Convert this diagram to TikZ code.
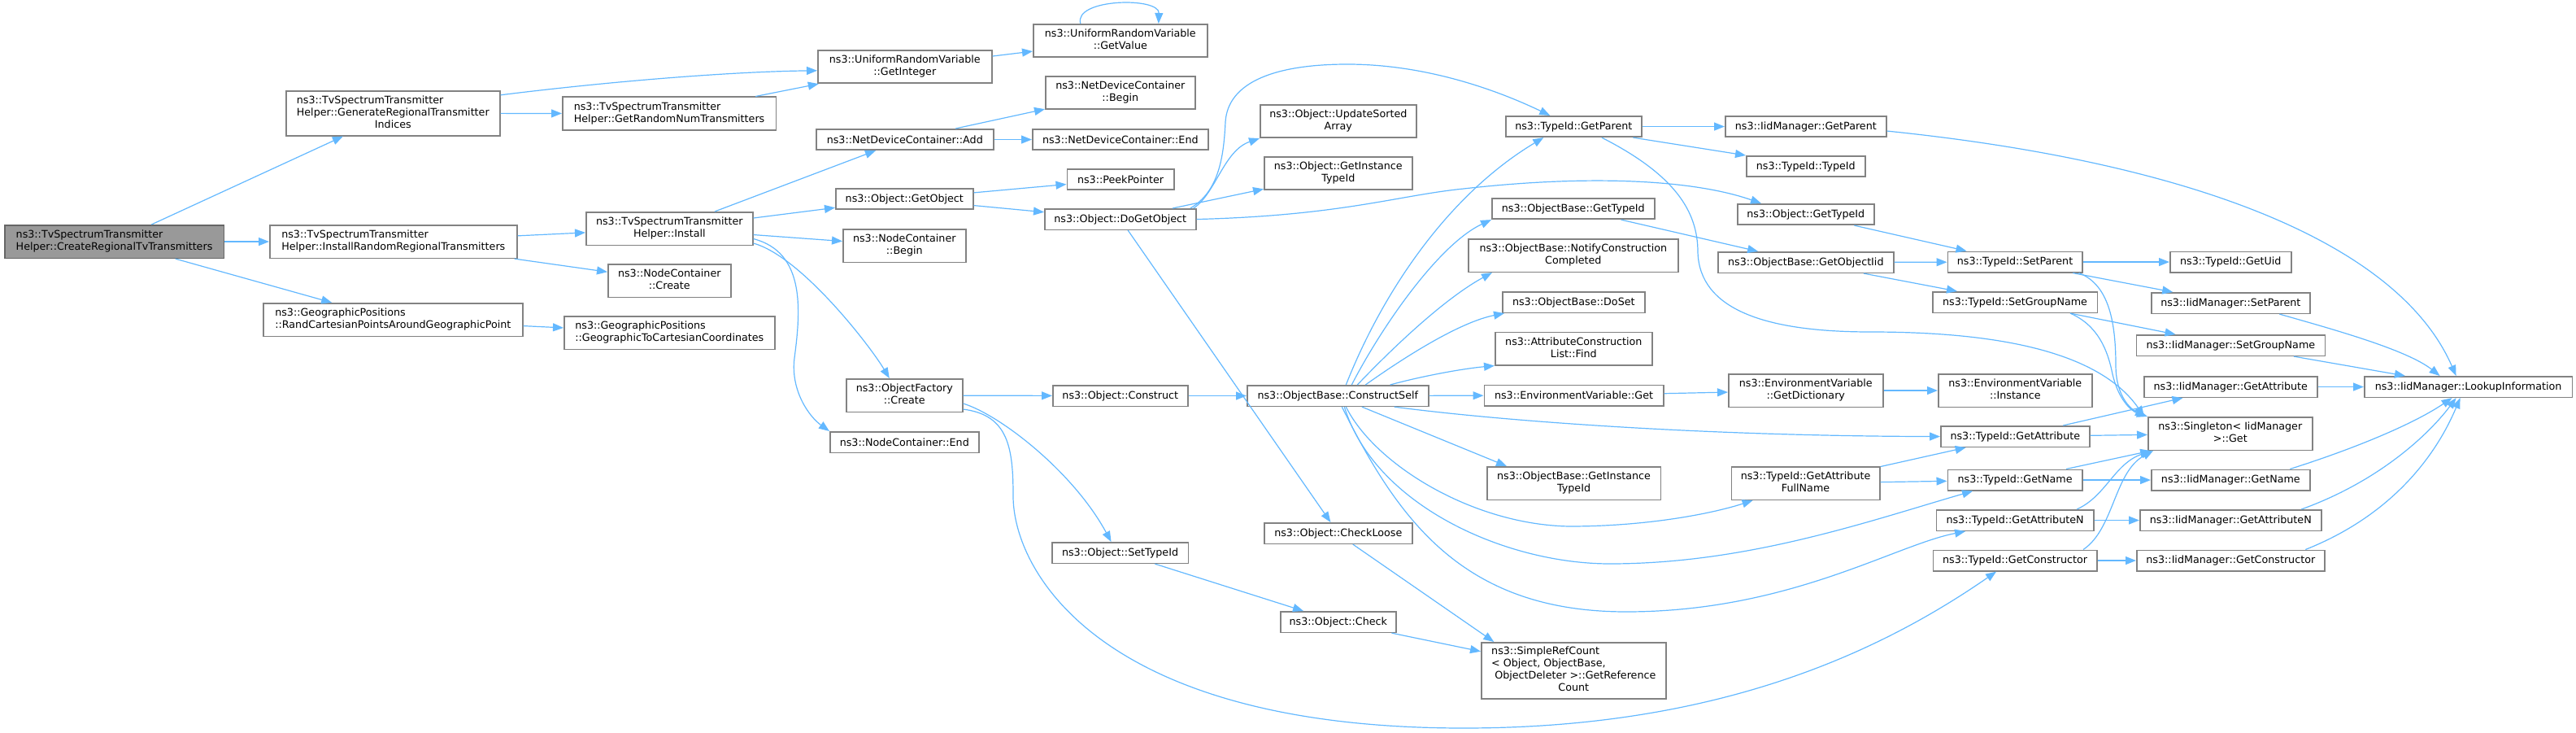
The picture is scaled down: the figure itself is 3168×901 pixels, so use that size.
\documentclass[tikz,border=0pt]{standalone}
\usepackage{fontspec}
\setmainfont{DejaVu Sans}
\usetikzlibrary{arrows.meta}

\definecolor{edgeblue}{HTML}{63B8FF}
\definecolor{boxline}{HTML}{828282}
\definecolor{rootfill}{HTML}{999999}
\definecolor{rootline}{HTML}{666666}

\newcommand{\fnfont}{\fontsize{12.7}{15}\selectfont}
% left aligned lines, last line centred
\newcommand{\lab}[2]{\begin{tabular}{@{}l@{}}#1\\\multicolumn{1}{@{}c@{}}{#2}\end{tabular}}

\tikzset{
  fn/.style={draw=boxline, fill=white, line width=1.6pt, inner sep=0pt, anchor=north west, font=\fnfont},
  root/.style={fn, draw=rootline, fill=rootfill},
  callto/.style={draw=edgeblue, line width=1.2pt, -{Triangle[length=13pt,width=10pt]}}
}

\begin{document}
\begin{tikzpicture}[x=1pt,y=-1pt]
		\useasboundingbox (0,0) rectangle (3168,901);
		\def\hone{25.5pt} % one line box
		\def\htwo{40.5pt} % two line box
		
		% First columns
		\node[root, minimum width=269.5pt, minimum height=\htwo] (main) at (5,276) {\lab{ns3::TvSpectrumTransmitter}{Helper::CreateRegionalTvTransmitters}};
		\node[fn, minimum width=263pt, minimum height=55pt] (gen) at (351,111) {\lab{ns3::TvSpectrumTransmitter\\Helper::GenerateRegionalTransmitter}{Indices}};
		\node[fn, minimum width=304pt, minimum height=\htwo] (instrand) at (331,276) {\lab{ns3::TvSpectrumTransmitter}{Helper::InstallRandomRegionalTransmitters}};
		\node[fn, minimum width=319pt, minimum height=\htwo] (georand) at (323,372) {\lab{ns3::GeographicPositions}{::RandCartesianPointsAroundGeographicPoint}};
		\node[fn, minimum width=262.5pt, minimum height=\htwo] (getrnd) at (691,118.5) {\lab{ns3::TvSpectrumTransmitter}{Helper::GetRandomNumTransmitters}};
		\node[fn, minimum width=205pt, minimum height=\htwo] (install) at (720,260) {\lab{ns3::TvSpectrumTransmitter}{Helper::Install}};
		\node[fn, minimum width=151pt, minimum height=\htwo] (nccreate) at (747,324) {\lab{ns3::NodeContainer}{::Create}};
		\node[fn, minimum width=259pt, minimum height=\htwo] (geocart) at (693,388) {\lab{ns3::GeographicPositions}{::GeographicToCartesianCoordinates}};
		\node[fn, minimum width=214pt, minimum height=\htwo] (getint) at (1005,61) {\lab{ns3::UniformRandomVariable}{::GetInteger}};
		\node[fn, minimum width=218pt, minimum height=\hone] (ndcadd) at (1003,158) {ns3::NetDeviceContainer::Add};
		\node[fn, minimum width=169pt, minimum height=\hone] (getobj) at (1027,231) {ns3::Object::GetObject};
		\node[fn, minimum width=151pt, minimum height=\htwo] (ncbegin) at (1036,281) {\lab{ns3::NodeContainer}{::Begin}};
		\node[fn, minimum width=143pt, minimum height=\htwo] (ofcreate) at (1040,465) {\lab{ns3::ObjectFactory}{::Create}};
		\node[fn, minimum width=183pt, minimum height=\hone] (ncend) at (1020,530) {ns3::NodeContainer::End};
		
		% Object internals
		\node[fn, minimum width=214pt, minimum height=\htwo] (getval) at (1270,29) {\lab{ns3::UniformRandomVariable}{::GetValue}};
		\node[fn, minimum width=184pt, minimum height=\htwo] (ndcbegin) at (1285,93) {\lab{ns3::NetDeviceContainer}{::Begin}};
		\node[fn, minimum width=216pt, minimum height=\hone] (ndcend) at (1269,158) {ns3::NetDeviceContainer::End};
		\node[fn, minimum width=131.5pt, minimum height=\hone] (peek) at (1311.5,207) {ns3::PeekPointer};
		\node[fn, minimum width=186pt, minimum height=\hone] (dogetobj) at (1284,256) {ns3::Object::DoGetObject};
		\node[fn, minimum width=166pt, minimum height=\hone] (construct) at (1294,473) {ns3::Object::Construct};
		\node[fn, minimum width=167.5pt, minimum height=\hone] (settid) at (1293,666) {ns3::Object::SetTypeId};
		\node[fn, minimum width=192pt, minimum height=\htwo] (updsort) at (1549,128) {\lab{ns3::Object::UpdateSorted}{Array}};
		\node[fn, minimum width=182pt, minimum height=\htwo] (objinst) at (1554,192) {\lab{ns3::Object::GetInstance}{TypeId}};
		\node[fn, minimum width=223pt, minimum height=\hone] (cself) at (1533,473) {ns3::ObjectBase::ConstructSelf};
		\node[fn, minimum width=182pt, minimum height=\hone] (checkloose) at (1554,642) {ns3::Object::CheckLoose};
		\node[fn, minimum width=142pt, minimum height=\hone] (check) at (1574,751) {ns3::Object::Check};
		
		% Called by ConstructSelf
		\node[fn, minimum width=167pt, minimum height=\hone] (getparent) at (1851,142) {ns3::TypeId::GetParent};
		\node[fn, minimum width=200pt, minimum height=\hone] (obgettid) at (1834,243) {ns3::ObjectBase::GetTypeId};
		\node[fn, minimum width=258pt, minimum height=\htwo] (notify) at (1805,293) {\lab{ns3::ObjectBase::NotifyConstruction}{Completed}};
		\node[fn, minimum width=175pt, minimum height=\hone] (doset) at (1847,358) {ns3::ObjectBase::DoSet};
		\node[fn, minimum width=193pt, minimum height=\htwo] (find) at (1838,407.5) {\lab{ns3::AttributeConstruction}{List::Find}};
		\node[fn, minimum width=220.5pt, minimum height=\hone] (envget) at (1824.5,472.5) {ns3::EnvironmentVariable::Get};
		\node[fn, minimum width=213.5pt, minimum height=\htwo] (obinst) at (1828,573) {\lab{ns3::ObjectBase::GetInstance}{TypeId}};
		\node[fn, minimum width=227pt, minimum height=69pt] (refcount) at (1821,789) {\lab{ns3::SimpleRefCount\\< Object, ObjectBase,\\\ ObjectDeleter >::GetReference}{Count}};
		\node[fn, minimum width=198pt, minimum height=\hone] (iidgetparent) at (2121,142) {ns3::IidManager::GetParent};
		\node[fn, minimum width=146pt, minimum height=\hone] (tidtid) at (2147,191) {ns3::TypeId::TypeId};
		\node[fn, minimum width=168pt, minimum height=\hone] (objgettid) at (2136,250) {ns3::Object::GetTypeId};
		\node[fn, minimum width=216pt, minimum height=\hone] (getiid) at (2112,309) {ns3::ObjectBase::GetObjectIid};
		\node[fn, minimum width=190pt, minimum height=\htwo] (envdict) at (2125,459) {\lab{ns3::EnvironmentVariable}{::GetDictionary}};
		\node[fn, minimum width=182.5pt, minimum height=\htwo] (fullname) at (2128.5,573) {\lab{ns3::TypeId::GetAttribute}{FullName}};
		
		% TypeId column
		\node[fn, minimum width=165.5pt, minimum height=\hone] (setparent) at (2394.5,308.5) {ns3::TypeId::SetParent};
		\node[fn, minimum width=202.5pt, minimum height=\hone] (setgroup) at (2376,358) {ns3::TypeId::SetGroupName};
		\node[fn, minimum width=189pt, minimum height=\htwo] (envinst) at (2383,459) {\lab{ns3::EnvironmentVariable}{::Instance}};
		\node[fn, minimum width=183pt, minimum height=\hone] (tidgetattr) at (2386,523) {ns3::TypeId::GetAttribute};
		\node[fn, minimum width=165.5pt, minimum height=\hone] (tidgetname) at (2394.5,576.5) {ns3::TypeId::GetName};
		\node[fn, minimum width=193.5pt, minimum height=\hone] (tidgetattrn) at (2380.5,626) {ns3::TypeId::GetAttributeN};
		\node[fn, minimum width=201.5pt, minimum height=\hone] (tidgetctor) at (2376.5,675.5) {ns3::TypeId::GetConstructor};
		
		% IidManager column
		\node[fn, minimum width=149pt, minimum height=\hone] (getuid) at (2668,308.5) {ns3::TypeId::GetUid};
		\node[fn, minimum width=195pt, minimum height=\hone] (iidsetparent) at (2645,359) {ns3::IidManager::SetParent};
		\node[fn, minimum width=232pt, minimum height=\hone] (iidsetgroup) at (2626.5,411) {ns3::IidManager::SetGroupName};
		\node[fn, minimum width=213pt, minimum height=\hone] (iidgetattr) at (2636,462) {ns3::IidManager::GetAttribute};
		\node[fn, minimum width=202pt, minimum height=\htwo] (singleton) at (2641,512) {\lab{ns3::Singleton< IidManager}{>::Get}};
		\node[fn, minimum width=195pt, minimum height=\hone] (iidgetname) at (2645,576.5) {ns3::IidManager::GetName};
		\node[fn, minimum width=223pt, minimum height=\hone] (iidgetattrn) at (2631,626) {ns3::IidManager::GetAttributeN};
		\node[fn, minimum width=231pt, minimum height=\hone] (iidgetctor) at (2627,675.5) {ns3::IidManager::GetConstructor};
		\node[fn, minimum width=255.5pt, minimum height=\hone] (lookup) at (2907,462) {ns3::IidManager::LookupInformation};
		
		% Straight calls
		\foreach \a/\b in {main/gen, main/instrand, main/georand, gen/getrnd, getrnd/getint, getint/getval,
			instrand/install, instrand/nccreate, georand/geocart, install/ndcadd, install/getobj, install/ncbegin,
			ndcadd/ndcbegin, ndcadd/ndcend, getobj/peek, getobj/dogetobj, dogetobj/objinst, dogetobj/checkloose,
			ofcreate/construct, construct/cself, cself/envget, getparent/iidgetparent, obgettid/getiid,
			objgettid/setparent, getiid/setparent, getiid/setgroup, setparent/getuid, setparent/iidsetparent,
			setgroup/iidsetgroup, iidsetgroup/lookup, envget/envdict, envdict/envinst, tidgetattr/iidgetattr,
			tidgetattr/singleton, iidgetattr/lookup, fullname/tidgetattr, fullname/tidgetname, tidgetname/singleton,
			tidgetname/iidgetname, tidgetattrn/iidgetattrn, tidgetctor/iidgetctor, settid/check, check/refcount} {
			\draw[callto] (\a) -- (\b);
		}
		
		% Curved calls
		\draw[callto] ([yshift=22.5pt]gen.east) .. controls (750,100) and (900,88) .. ([yshift=-4.75pt]getint.west);
		\draw[callto] ([xshift=-49pt]getval.north) .. controls (1320,-2) and (1426,-4) .. ([xshift=47pt]getval.north);
		\draw[callto] ([yshift=-18pt]install.east) .. controls (985,315) and (1070,425) .. ([xshift=-18.5pt]ofcreate.north);
		\draw[callto] ([yshift=-12.5pt]install.east) .. controls (990,310) and (985,380) .. (977,440) .. controls (972,480) and (995,512) .. (ncend.north west);
		\draw[callto] ([xshift=86pt]dogetobj.north) .. controls (1500,235) and (1505,190) .. (1507,150) .. controls (1510,100) and (1570,79) .. (1657,79) .. controls (1760,79) and (1850,115) .. ([xshift=-29pt]getparent.north);
		\draw[callto] ([xshift=90pt]dogetobj.north) .. controls (1495,238) and (1505,185) .. (updsort.south west);
		\draw[callto] (dogetobj.east) .. controls (1650,265) and (1720,240) .. (1800,232) .. controls (1950,215) and (2080,220) .. ([xshift=30pt]objgettid.north west);
		\draw[callto] ([yshift=-10pt]ofcreate.east) .. controls (1230,510) and (1320,580) .. ([xshift=-11pt]settid.north);
		\draw[callto] ([yshift=-17pt]ofcreate.east) .. controls (1240,510) and (1246,550) .. (1246,610) .. controls (1246,700) and (1350,895) .. (1800,895) .. controls (2100,895) and (2300,810) .. ([xshift=-23pt]tidgetctor.south);
		
		% ConstructSelf fan out
		\draw[callto] ([xshift=10pt]cself.north) .. controls (1700,360) and (1780,240) .. ([xshift=-37pt]getparent.south);
		\draw[callto] ([xshift=17pt]cself.north) .. controls (1700,400) and (1770,300) .. (obgettid.south west);
		\draw[callto] ([xshift=24pt]cself.north) .. controls (1720,420) and (1780,365) .. ([xshift=30pt]notify.south west);
		\draw[callto] ([xshift=34pt]cself.north) .. controls (1740,430) and (1800,395) .. ([xshift=3pt]doset.south west);
		\draw[callto] ([xshift=-48pt]cself.north east) .. controls (1750,462) and (1800,453) .. (find.south west);
		\draw[callto] ([xshift=-43pt]cself.south east) .. controls (1850,518) and (2100,536) .. (tidgetattr.west);
		\draw[callto] ([xshift=29.5pt]cself.south) -- ([xshift=25pt]obinst.north west);
		\draw[callto] ([xshift=10pt]cself.south) .. controls (1690,570) and (1810,645) .. (1930,647) .. controls (2030,647) and (2110,630) .. ([xshift=-65pt]fullname.south);
		\draw[callto] ([xshift=8pt]cself.south) .. controls (1690,620) and (1850,693) .. (1980,693) .. controls (2150,693) and (2300,640) .. ([xshift=-52pt]tidgetname.south);
		\draw[callto] ([xshift=5pt]cself.south) .. controls (1720,640) and (1800,752) .. (2000,752) .. controls (2200,752) and (2330,670) .. ([xshift=-61pt]tidgetattrn.south);
		\draw[callto] ([xshift=18pt]checkloose.south) -- ([xshift=-98pt]refcount.north);
		
		% TypeId and IidManager calls
		\draw[callto] ([xshift=73pt]getparent.south) -- (tidtid.north west);
		\draw[callto] ([xshift=34.5pt]getparent.south) .. controls (2060,215) and (2088,260) .. (2088,310) .. controls (2090,380) and (2170,408) .. (2300,408) .. controls (2450,408) and (2580,430) .. ([xshift=-4pt]singleton.north west);
		\draw[callto] ([yshift=-5.5pt]iidgetparent.east) .. controls (2700,200) and (2950,300) .. ([xshift=-15pt]lookup.north);
		\draw[callto] ([xshift=-5pt]setparent.south east) .. controls (2595,350) and (2602,400) .. (2602,450) .. controls (2602,480) and (2615,500) .. ([xshift=-2pt]singleton.north west);
		\draw[callto] ([xshift=68pt]setgroup.south) .. controls (2580,400) and (2592,430) .. (2598,460) .. controls (2605,490) and (2620,505) .. (singleton.north west);
		\draw[callto] ([xshift=60pt]iidsetparent.south) .. controls (2870,405) and (2960,430) .. ([xshift=-35pt]lookup.north);
		\draw[callto] ([xshift=73pt]iidgetname.north) .. controls (2900,550) and (2970,520) .. ([xshift=-20pt]lookup.south);
		\draw[callto] ([xshift=76pt]tidgetattrn.north) .. controls (2590,610) and (2600,570) .. ([xshift=5pt]singleton.south west);
		\draw[callto] ([xshift=87pt]iidgetattrn.north) .. controls (2930,590) and (2990,530) .. ([xshift=-15pt]lookup.south);
		\draw[callto] ([xshift=84pt]tidgetctor.north) .. controls (2600,650) and (2600,580) .. ([xshift=7pt]singleton.south west);
		\draw[callto] ([xshift=92pt]iidgetctor.north) .. controls (2950,630) and (3000,550) .. ([xshift=-10pt]lookup.south);
	\end{tikzpicture}
\end{document}
